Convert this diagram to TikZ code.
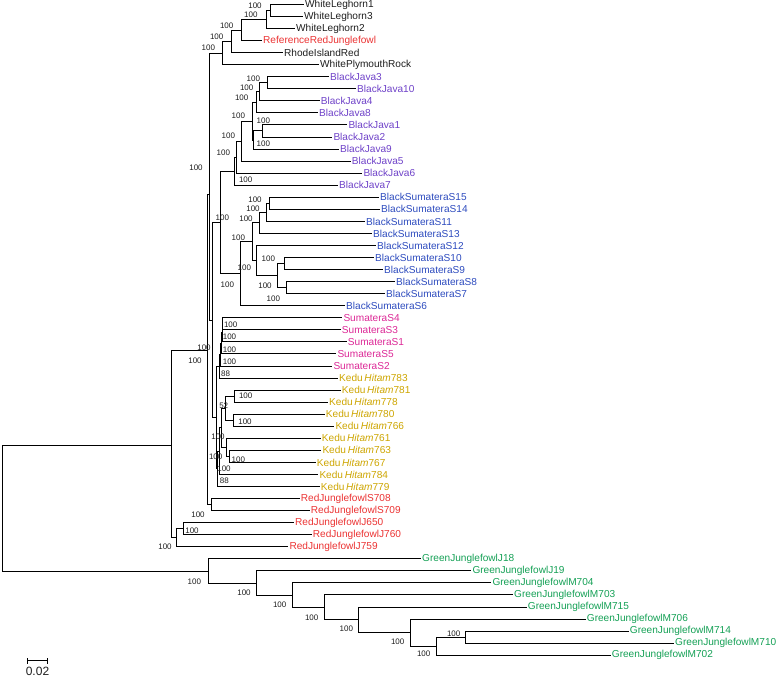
\documentclass[tikz,border=0pt]{standalone}
\usepackage{fontspec}
\setmainfont{Liberation Sans}
\definecolor{cblk}{RGB}{30,30,30}
\definecolor{cjava}{RGB}{110,65,200}
\definecolor{cbs}{RGB}{45,75,190}
\definecolor{csum}{RGB}{220,40,150}
\definecolor{cked}{RGB}{205,165,0}
\definecolor{cred}{RGB}{235,50,50}
\definecolor{cgreen}{RGB}{20,160,85}
\newcommand{\lf}[5]{\node[leaf,text=#4] (#1) at (#2,#3) {#5};}
\newcommand{\bsl}[4][100]{\node[bs] (#2) at (#3,#4) {#1};}
\newcommand{\kh}[1]{Kedu\,\textit{Hitam}#1}
\begin{document}
\begin{tikzpicture}[x=1pt,y=-1pt,
  br/.style={line width=1pt,black},
  leaf/.style={anchor=west,inner sep=1pt,font=\fontsize{10.1}{11}\selectfont},
  bs/.style={inner sep=0pt,font=\fontsize{8}{9}\selectfont,text=cblk}]
\useasboundingbox (0,0) rectangle (778,679);
% ---------- leaves ----------
\lf{l1}{304}{4.5}{cblk}{WhiteLeghorn1}
\lf{l2}{303}{16.55}{cblk}{WhiteLeghorn3}
\lf{l3}{295}{28.6}{cblk}{WhiteLeghorn2}
\lf{l4}{262}{40.65}{cred}{ReferenceRedJunglefowl}
\lf{l5}{283}{52.7}{cblk}{RhodeIslandRed}
\lf{l6}{319}{64.75}{cblk}{WhitePlymouthRock}
\lf{l7}{329}{76.8}{cjava}{BlackJava3}
\lf{l8}{356}{88.85}{cjava}{BlackJava10}
\lf{l9}{319.7}{100.9}{cjava}{BlackJava4}
\lf{l10}{318}{112.95}{cjava}{BlackJava8}
\lf{l11}{347.3}{125.0}{cjava}{BlackJava1}
\lf{l12}{332.3}{137.05}{cjava}{BlackJava2}
\lf{l13}{339}{149.1}{cjava}{BlackJava9}
\lf{l14}{350.7}{161.15}{cjava}{BlackJava5}
\lf{l15}{362.3}{173.2}{cjava}{BlackJava6}
\lf{l16}{338}{185.25}{cjava}{BlackJava7}
\lf{l17}{379}{197.3}{cbs}{BlackSumateraS15}
\lf{l18}{380}{209.35}{cbs}{BlackSumateraS14}
\lf{l19}{365}{221.4}{cbs}{BlackSumateraS11}
\lf{l20}{372}{233.45}{cbs}{BlackSumateraS13}
\lf{l21}{376}{245.5}{cbs}{BlackSumateraS12}
\lf{l22}{374}{257.55}{cbs}{BlackSumateraS10}
\lf{l23}{383}{269.6}{cbs}{BlackSumateraS9}
\lf{l24}{395}{281.65}{cbs}{BlackSumateraS8}
\lf{l25}{385}{293.7}{cbs}{BlackSumateraS7}
\lf{l26}{345}{305.75}{cbs}{BlackSumateraS6}
\lf{l27}{342.3}{317.8}{csum}{SumateraS4}
\lf{l28}{340.7}{329.85}{csum}{SumateraS3}
\lf{l29}{346.7}{341.9}{csum}{SumateraS1}
\lf{l30}{336.3}{353.95}{csum}{SumateraS5}
\lf{l31}{332.3}{366.0}{csum}{SumateraS2}
\lf{l32}{338}{378.05}{cked}{\kh{783}}
\lf{l33}{340.7}{390.1}{cked}{\kh{781}}
\lf{l34}{328}{402.15}{cked}{\kh{778}}
\lf{l35}{324.7}{414.2}{cked}{\kh{780}}
\lf{l36}{334.3}{426.25}{cked}{\kh{766}}
\lf{l37}{320.7}{438.3}{cked}{\kh{761}}
\lf{l38}{321.3}{450.35}{cked}{\kh{763}}
\lf{l39}{315.7}{462.4}{cked}{\kh{767}}
\lf{l40}{318.3}{474.45}{cked}{\kh{784}}
\lf{l41}{319.7}{486.5}{cked}{\kh{779}}
\lf{l42}{299.7}{498.55}{cred}{RedJunglefowlS708}
\lf{l43}{309.7}{510.6}{cred}{RedJunglefowlS709}
\lf{l44}{294}{522.65}{cred}{RedJunglefowlJ650}
\lf{l45}{311.7}{534.7}{cred}{RedJunglefowlJ760}
\lf{l46}{288.3}{546.75}{cred}{RedJunglefowlJ759}
\lf{l47}{421}{558.8}{cgreen}{GreenJunglefowlJ18}
\lf{l48}{471.3}{570.85}{cgreen}{GreenJunglefowlJ19}
\lf{l49}{491.3}{582.9}{cgreen}{GreenJunglefowlM704}
\lf{l50}{513}{594.95}{cgreen}{GreenJunglefowlM703}
\lf{l51}{526.7}{607.0}{cgreen}{GreenJunglefowlM715}
\lf{l52}{585.7}{619.05}{cgreen}{GreenJunglefowlM706}
\lf{l53}{628.7}{631.1}{cgreen}{GreenJunglefowlM714}
\lf{l54}{674}{643.15}{cgreen}{GreenJunglefowlM710}
\lf{l55}{610.7}{655.2}{cgreen}{GreenJunglefowlM702}
% ---------- internal nodes ----------
\coordinate (n1) at (270,10.5);
\coordinate (n2) at (266,19.6);
\coordinate (n3) at (241,30.1);
\coordinate (n4) at (231,41.4);
\coordinate (n5) at (222,53.1);
\coordinate (j1) at (267.3,82.8);
\coordinate (j2) at (259,91.9);
\coordinate (j3) at (256.7,102.4);
\coordinate (j4) at (262.7,131.0);
\coordinate (j5) at (253.3,140.1);
\coordinate (j6) at (252,121.2);
\coordinate (j7) at (241.7,141.2);
\coordinate (j8) at (236.7,157.2);
\coordinate (j9) at (234.3,171.2);
\coordinate (s1) at (269,203.3);
\coordinate (s2) at (266.7,212.4);
\coordinate (s3) at (259,222.9);
\coordinate (s4) at (284.3,263.6);
\coordinate (s5) at (286.7,287.7);
\coordinate (s6) at (277.3,275.6);
\coordinate (s7) at (256.7,260.6);
\coordinate (s8) at (252.3,241.7);
\coordinate (s9) at (240,273.7);
\coordinate (js) at (220.5,222.5);
\coordinate (sa) at (222.5,323.8);
\coordinate (sb) at (222,332.9);
\coordinate (sc) at (221,343.4);
\coordinate (sd) at (220,354.7);
\coordinate (se) at (219,366.4);
\coordinate (k1) at (234.3,396.1);
\coordinate (k2) at (233.3,420.2);
\coordinate (k3) at (225,408.2);
\coordinate (k4) at (229.3,456.4);
\coordinate (k5) at (226.7,447.3);
\coordinate (k6) at (221.7,427.8);
\coordinate (k7) at (219,451.1);
\coordinate (k8) at (217.5,468.8);
\coordinate (sk) at (216.2,417.6);
\coordinate (ny) at (212,320.0);
\coordinate (nx) at (209.7,194);
\coordinate (nb) at (207,350.5);
\coordinate (rjs) at (211.7,504.6);
\coordinate (rjj) at (183.3,528.7);
\coordinate (rjk) at (176.7,537.7);
\coordinate (na) at (171.7,445);
\coordinate (g8) at (465.7,637.1);
\coordinate (g7) at (436.7,646.1);
\coordinate (g6) at (410,632.6);
\coordinate (g5) at (358.7,619.8);
\coordinate (g4) at (324.3,607.4);
\coordinate (g3) at (292.7,595.1);
\coordinate (g2) at (256,583.0);
\coordinate (g1) at (208.3,571.5);
\coordinate (root) at (2,508);
% ---------- branches ----------
\foreach \p/\c in {n1/l1.west,n1/l2.west,n2/n1,n2/l3.west,n3/n2,n3/l4.west,n4/n3,n4/l5.west,n5/n4,n5/l6.west,
  j1/l7.west,j1/l8.west,j2/j1,j2/l9.west,j3/j2,j3/l10.west,j4/l11.west,j4/l12.west,j5/j4,j5/l13.west,
  j6/j3,j6/j5,j7/j6,j7/l14.west,j8/j7,j8/l15.west,j9/j8,j9/l16.west,
  s1/l17.west,s1/l18.west,s2/s1,s2/l19.west,s3/s2,s3/l20.west,s4/l22.west,s4/l23.west,s5/l24.west,s5/l25.west,
  s6/s4,s6/s5,s7/l21.west,s7/s6,s8/s3,s8/s7,s9/s8,s9/l26.west,js/j9,js/s9,
  sa/l27.west,sa/l28.west,sb/sa,sb/l29.west,sc/sb,sc/l30.west,sd/sc,sd/l31.west,se/sd,se/l32.west,
  k1/l33.west,k1/l34.west,k2/l35.west,k2/l36.west,k3/k1,k3/k2,k4/l38.west,k4/l39.west,k5/l37.west,k5/k4,
  k6/k3,k6/k5,k7/k6,k7/l40.west,k8/k7,k8/l41.west,sk/se,sk/k8,
  ny/js,ny/sk,nx/n5,nx/ny,nb/nx,nb/rjs,rjs/l42.west,rjs/l43.west,
  rjj/l44.west,rjj/l45.west,rjk/rjj,rjk/l46.west,na/nb,na/rjk,
  g8/l53.west,g8/l54.west,g7/g8,g7/l55.west,g6/l52.west,g6/g7,g5/l51.west,g5/g6,g4/l50.west,g4/g5,
  g3/l49.west,g3/g4,g2/l48.west,g2/g3,g1/l47.west,g1/g2,root/na,root/g1}
  {\draw[br] (\p) |- (\c);}
% ---------- bootstrap values ----------
\bsl{b1}{255}{6}
\bsl{b2}{250.8}{15}
\bsl{b3}{226.7}{25.7}
\bsl{b4}{216.7}{36.7}
\bsl{b5}{208.3}{48}
\bsl{b6}{253.3}{79}
\bsl{b7}{246.7}{87.7}
\bsl{b8}{241.7}{97.7}
\bsl{b9}{263.3}{121}
\bsl{b10}{263.3}{144}
\bsl{b11}{238.3}{116}
\bsl{b12}{228.3}{136}
\bsl{b13}{223.3}{152.3}
\bsl{b14}{245.7}{180}
\bsl{b15}{196}{168}
\bsl{b16}{255}{199.3}
\bsl{b17}{253}{209}
\bsl{b18}{246}{218.3}
\bsl{b19}{222.3}{217.3}
\bsl{b20}{238.3}{237.7}
\bsl{b21}{244.3}{267.7}
\bsl{b22}{268.3}{258.3}
\bsl{b23}{265}{285.7}
\bsl{b24}{273.3}{298.3}
\bsl{b25}{227.3}{285}
\bsl{b26}{204}{347.3}
\bsl{b27}{195}{360.3}
\bsl{b28}{230.7}{324.3}
\bsl{b29}{229.5}{336.5}
\bsl{b30}{229.5}{350}
\bsl{b31}{229.5}{361.5}
\bsl[88]{b32}{225.5}{373.5}
\bsl{b33}{245.7}{396}
\bsl[52]{b34}{223.7}{406}
\bsl{b35}{245}{422}
\bsl{b36}{218}{436.7}
\bsl{b37}{238.3}{460}
\bsl{b38}{215.7}{456.7}
\bsl{b39}{224}{469}
\bsl[88]{b40}{224.3}{481}
\bsl{b41}{198}{514.5}
\bsl{b42}{192}{530.5}
\bsl{b43}{165}{547}
\bsl{b44}{194.3}{581.7}
\bsl{b45}{244}{592.3}
\bsl{b46}{279.7}{605}
\bsl{b47}{311.7}{617.3}
\bsl{b48}{346.3}{629}
\bsl{b49}{397.7}{641.7}
\bsl{b50}{423.7}{654}
\bsl{b51}{453.7}{633.3}
% ---------- scale bar ----------
\coordinate (sbl) at (27.3,660.7);
\coordinate (sbr) at (47.7,660.7);
\draw[line width=1pt] (sbl) -- (sbr);
\draw[line width=1pt] ([yshift=-3pt]sbl) -- ([yshift=3pt]sbl);
\draw[line width=1pt] ([yshift=-3pt]sbr) -- ([yshift=3pt]sbr);
\node[inner sep=0pt,font=\fontsize{12}{13}\selectfont,text=cblk] (sbt) at (37.5,671.5) {0.02};
\end{tikzpicture}
\end{document}
